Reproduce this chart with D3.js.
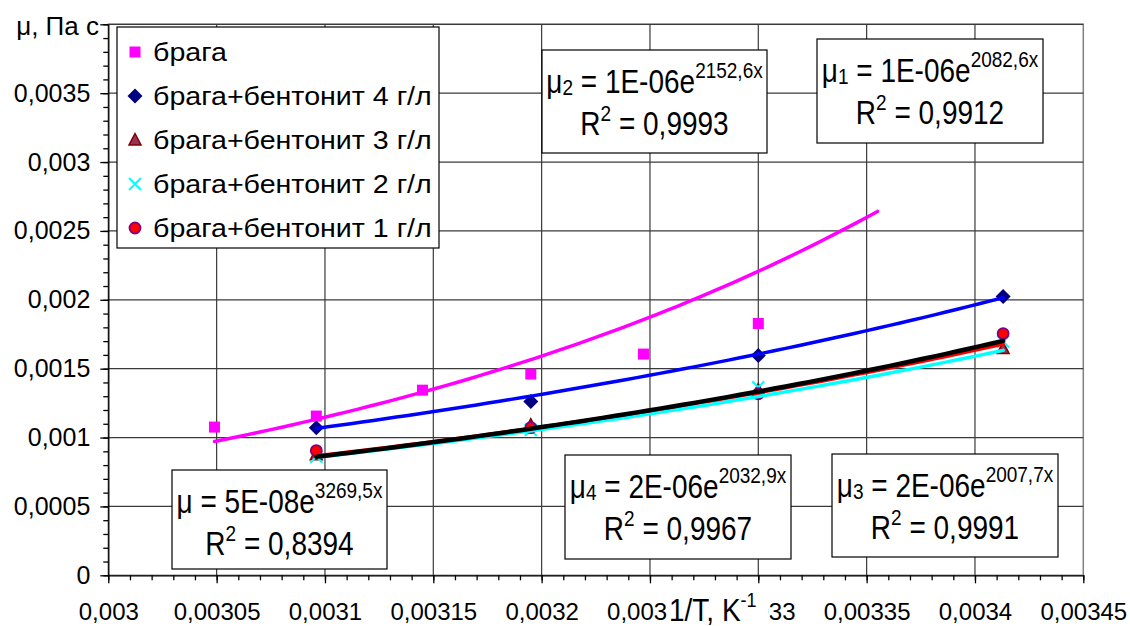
<!DOCTYPE html>
<meta charset="utf-8">
<style>
body { margin: 0; background: #fff; }
svg text { font-family: "Liberation Sans", Arial, sans-serif; fill: #000; }
</style>
<svg width="1130" height="626"></svg>
<script src="https://d3js.org/d3.v7.min.js"></script>
<script>
// 1/T values, K^-1
var xBraga = [0.003049, 0.003096, 0.003145, 0.003195, 0.003247, 0.003300];
var xBent  = [0.003096, 0.003195, 0.003300, 0.003413];

// viscosity, Pa*s
var yBraga = [0.001076, 0.001156, 0.001344, 0.001461, 0.001606, 0.001828];
var yBent4 = [0.001072, 0.001261, 0.001595, 0.002024];
var yBent3 = [0.000876, 0.001090, 0.001345, 0.001646];
var yBent2 = [0.000861, 0.001055, 0.001365, 0.001697];
var yBent1 = [0.000905, 0.001072, 0.001318, 0.001755];

var seriesNames = ["брага", "брага+бентонит 4 г/л", "брага+бентонит 3 г/л",
                   "брага+бентонит 2 г/л", "брага+бентонит 1 г/л"];

// exponential trendlines  mu = A * exp(k * x)
var trendA    = [4.55e-8, 2.13e-6, 1.374e-6, 1.584e-6, 1.097e-6];
var trendK    = [3269.5, 2007.7, 2082.6, 2032.9, 2152.6];
var trendFrom = [0.003049, 0.003096, 0.003096, 0.003096, 0.003096];
var trendTo   = [0.003355, 0.003413, 0.003413, 0.003413, 0.003413];

// equation labels
var eqSub   = ["", "1", "2", "3", "4"];
var eqCoef  = ["5E-08e", "1E-06e", "1E-06e", "2E-06e", "2E-06e"];
var eqExp   = ["3269,5x", "2082,6x", "2152,6x", "2007,7x", "2032,9x"];
var eqR2    = ["0,8394", "0,9912", "0,9993", "0,9991", "0,9967"];

var xTickVals = [0.003, 0.00305, 0.0031, 0.00315, 0.0032, 0.00325, 0.0033, 0.00335, 0.0034, 0.00345];
var yTickVals = [0, 0.0005, 0.001, 0.0015, 0.002, 0.0025, 0.003, 0.0035, 0.004];

var svg = d3.select("svg");

var x = d3.scaleLinear().domain([0.003, 0.00345]).range([108.3, 1083.3]);
var y = d3.scaleLinear().domain([0, 0.004]).range([575.3, 24.3]);

var loc = d3.formatLocale({decimal: ",", thousands: " ", grouping: [3], currency: ["", ""]});
var fmt = loc.format("~g");

// plot frame + grid
svg.append("rect")
    .attr("x", x(0.003)).attr("y", y(0.004))
    .attr("width", x(0.00345) - x(0.003)).attr("height", y(0) - y(0.004))
    .attr("fill", "#fff").attr("stroke", "#808080").attr("stroke-width", 1.5);

svg.append("g").selectAll("line")
    .data(xTickVals.slice(1, -1))
    .enter().append("line")
    .attr("x1", function(d) { return x(d); }).attr("x2", function(d) { return x(d); })
    .attr("y1", y(0)).attr("y2", y(0.004))
    .attr("stroke", "#3a3a3a").attr("stroke-width", 1.2);

svg.append("g").selectAll("line")
    .data(yTickVals.slice(1))
    .enter().append("line")
    .attr("x1", x(0.003)).attr("x2", x(0.00345))
    .attr("y1", function(d) { return y(d); }).attr("y2", function(d) { return y(d); })
    .attr("stroke", "#3a3a3a").attr("stroke-width", 1.2);

// axes
var xMinor = d3.range(0, 46).map(function(i) { return 0.003 + i * 0.00001; });
var yMinor = d3.range(0, 41).map(function(i) { return i * 0.0001; });

svg.append("g").attr("transform", "translate(0," + y(0) + ")")
    .call(d3.axisBottom(x).tickValues(xMinor).tickSize(5).tickFormat(""))
    .call(function(g) { g.select(".domain").remove(); });
var xAxis = svg.append("g").attr("transform", "translate(0," + y(0) + ")")
    .call(d3.axisBottom(x).tickValues(xTickVals).tickSize(8).tickSizeOuter(0).tickPadding(20).tickFormat(fmt));

svg.append("g").attr("transform", "translate(" + x(0.003) + ",0)")
    .call(d3.axisLeft(y).tickValues(yMinor).tickSize(5).tickFormat(""))
    .call(function(g) { g.select(".domain").remove(); });
var yAxis = svg.append("g").attr("transform", "translate(" + x(0.003) + ",0)")
    .call(d3.axisLeft(y).tickValues(yTickVals).tickSize(8).tickSizeOuter(0).tickPadding(10)
      .tickFormat(function(d) { return d === 0.004 ? "" : fmt(d); }));

svg.selectAll(".tick line, .domain").attr("stroke", "#000").attr("stroke-width", 1.3);
xAxis.selectAll(".tick text")
    .attr("font-family", "Liberation Sans, Arial, sans-serif")
    .attr("font-size", 24).attr("fill", "#000");
yAxis.selectAll(".tick text")
    .attr("font-family", "Liberation Sans, Arial, sans-serif")
    .attr("font-size", 25).attr("fill", "#000");

// markers
function shape(g, i, cx, cy) {
  if (i === 0) {
    g.append("rect").attr("x", cx - 5.5).attr("y", cy - 5.5)
      .attr("width", 11).attr("height", 11).attr("fill", "#ff00ff");
  } else if (i === 1) {
    g.append("path").attr("d", "M" + cx + "," + (cy - 7.5) + "L" + (cx + 7.5) + "," + cy +
      "L" + cx + "," + (cy + 7.5) + "L" + (cx - 7.5) + "," + cy + "Z").attr("fill", "#000080");
  } else if (i === 2) {
    g.append("path").attr("d", "M" + cx + "," + (cy - 6.5) + "L" + (cx + 6) + "," + (cy + 5) +
      "L" + (cx - 6) + "," + (cy + 5) + "Z")
      .attr("fill", "#993355").attr("stroke", "#800000").attr("stroke-width", 1.5);
  } else if (i === 3) {
    g.append("path").attr("d", "M" + (cx - 6) + "," + (cy - 6) + "L" + (cx + 6) + "," + (cy + 6) +
      "M" + (cx + 6) + "," + (cy - 6) + "L" + (cx - 6) + "," + (cy + 6))
      .attr("stroke", "#00ffff").attr("stroke-width", 2);
  } else {
    g.append("circle").attr("cx", cx).attr("cy", cy).attr("r", 5.5)
      .attr("fill", "#ff0000").attr("stroke", "#800080").attr("stroke-width", 1.8);
  }
}

var allX = [xBraga, xBent, xBent, xBent, xBent];
var allY = [yBraga, yBent4, yBent3, yBent2, yBent1];

var markers = svg.append("g");
allY.forEach(function(ys, i) {
  ys.forEach(function(v, j) {
    shape(markers, i, x(allX[i][j]), y(v));
  });
});

// trendlines
var trendColor = ["#ff00ff", "#0000ff", "#ff0000", "#00ffff", "#000000"];
var trendWidth = [3.5, 3.5, 3.5, 3.5, 4.5];
var line = d3.line().x(function(d) { return x(d[0]); }).y(function(d) { return y(d[1]); });
[0, 1, 3, 2, 4].forEach(function(i) {
  var pts = d3.range(0, 61).map(function(j) {
    var xv = trendFrom[i] + (trendTo[i] - trendFrom[i]) * j / 60;
    return [xv, trendA[i] * Math.exp(trendK[i] * xv)];
  });
  svg.append("path").datum(pts).attr("d", line)
    .attr("fill", "none").attr("stroke", trendColor[i])
    .attr("stroke-width", trendWidth[i]).attr("stroke-linecap", "round");
});

// legend
var leg = svg.append("g");
leg.append("rect").attr("x", 117).attr("y", 27).attr("width", 322).attr("height", 221)
  .attr("fill", "#fff").attr("stroke", "#000").attr("stroke-width", 1.2);
seriesNames.forEach(function(name, i) {
  var cy = 52 + i * 44;
  shape(leg, i, 135, cy);
  leg.append("text").attr("font-size", 26)
    .attr("transform", "translate(153," + (cy + 9) + ") scale(1.1,1)")
    .text(name);
});

// equation boxes: [left, top, width, height]
var eqBox = [[172, 470, 215, 99], [817, 39, 226, 104], [542, 50, 225, 103],
             [832, 454, 226, 103], [565, 455, 226, 104]];
eqBox.forEach(function(b, i) {
  var g = svg.append("g");
  g.append("rect").attr("x", b[0]).attr("y", b[1]).attr("width", b[2]).attr("height", b[3])
    .attr("fill", "#fff").attr("stroke", "#000").attr("stroke-width", 1.2);
  var cx = b[0] + b[2] / 2;
  var t1 = g.append("text").attr("text-anchor", "middle").attr("font-size", 28)
    .attr("transform", "translate(" + cx + "," + (b[1] + 43) + ") scale(1,1.18)");
  t1.append("tspan").text("μ");
  if (eqSub[i]) {
    t1.append("tspan").attr("font-size", 19).attr("dy", 2).text(eqSub[i]);
    t1.append("tspan").attr("dy", -2).text(" = " + eqCoef[i]);
  } else {
    t1.append("tspan").text(" = " + eqCoef[i]);
  }
  t1.append("tspan").attr("font-size", 19).attr("dy", -13).text(eqExp[i]);

  var t2 = g.append("text").attr("text-anchor", "middle").attr("font-size", 28)
    .attr("transform", "translate(" + cx + "," + (b[1] + 85) + ") scale(1,1.18)");
  t2.append("tspan").text("R");
  t2.append("tspan").attr("font-size", 19).attr("dy", -12).text("2");
  t2.append("tspan").attr("dy", 12).text(" = " + eqR2[i]);
});

// axis titles with white backing
svg.append("rect").attr("x", 8).attr("y", 12).attr("width", 92).attr("height", 30).attr("fill", "#fff");
svg.append("text").attr("text-anchor", "end").attr("font-size", 26)
  .attr("transform", "translate(99,35)").text("μ, Па с");

svg.append("rect").attr("x", 667).attr("y", 594).attr("width", 101).attr("height", 32).attr("fill", "#fff");
var xt = svg.append("text").attr("font-size", 28)
  .attr("transform", "translate(669,621) scale(1,1.1)");
xt.append("tspan").text("1/T, K");
xt.append("tspan").attr("font-size", 18).attr("dy", -13).text("-1");
</script>
